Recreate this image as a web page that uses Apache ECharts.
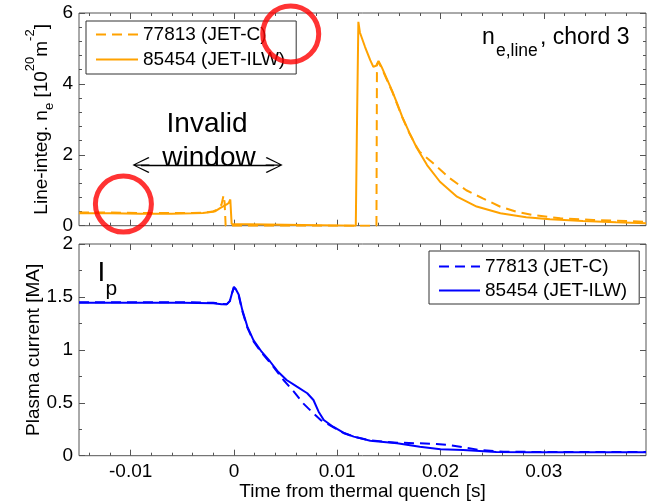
<!DOCTYPE html>
<html><head><meta charset="utf-8">
<script src="https://cdn.jsdelivr.net/npm/echarts@6/dist/echarts.min.js"></script>
<style>html,body{margin:0;padding:0;background:#fff}#c{width:649px;height:503px}</style>
</head><body><div id="c"></div>
<script>
// ---------- data (time [s], value) ----------
const neJetC = [[-0.015,0.37],[-0.012,0.37],[-0.009,0.36],[-0.006,0.36],[-0.004,0.36],[-0.003,0.37],[-0.002,0.40],[-0.0015,0.47],[-0.0012,0.6],[-0.001,0.86],[-0.0009,0.65],[-0.00085,0.6],[-0.0008,0],[0.0138,0],[0.01385,4.55],[0.0140,4.62],[0.0143,4.45],[0.0148,4.12],[0.0153,3.8],[0.0158,3.43],[0.0163,3.06],[0.0170,2.6],[0.0177,2.22],[0.0180,2.08],[0.0193,1.76],[0.0209,1.34],[0.0225,1.0],[0.0241,0.77],[0.0258,0.535],[0.0274,0.39],[0.029,0.30],[0.0316,0.21],[0.0348,0.16],[0.038,0.13],[0.0399,0.11]];
const neJetILW = [[-0.015,0.35],[-0.012,0.35],[-0.009,0.34],[-0.006,0.34],[-0.004,0.35],[-0.003,0.36],[-0.0024,0.38],[-0.0018,0.41],[-0.0013,0.50],[-0.001,0.55],[-0.0007,0.60],[-0.0005,0.64],[-0.00035,0.74],[-0.0003,0.70],[-0.00022,0.05],[-0.0002,0],[0.0118,0],[0.0119,2.5],[0.01205,5.75],[0.0122,5.45],[0.0127,5.04],[0.0132,4.67],[0.0135,4.48],[0.0138,4.52],[0.0140,4.65],[0.0143,4.48],[0.0148,4.15],[0.0153,3.82],[0.0158,3.45],[0.0163,3.07],[0.0170,2.62],[0.0177,2.2],[0.0187,1.71],[0.01995,1.24],[0.0216,0.82],[0.0235,0.54],[0.0258,0.35],[0.0283,0.24],[0.0306,0.18],[0.0338,0.13],[0.037,0.095],[0.0399,0.07]];
const ipJetC = [[-0.015,1.45],[-0.01,1.45],[-0.005,1.45],[-0.002,1.445],[-0.0012,1.435],[-0.0007,1.43],[-0.0004,1.46],[-0.0002,1.53],[0,1.59],[0.0002,1.57],[0.00047,1.51],[0.0008,1.37],[0.0013,1.21],[0.0019,1.08],[0.0027,0.97],[0.0035,0.88],[0.0039,0.83],[0.0048,0.715],[0.0058,0.605],[0.0067,0.495],[0.0077,0.40],[0.0084,0.337],[0.0096,0.27],[0.0106,0.215],[0.0116,0.18],[0.0132,0.145],[0.0158,0.123],[0.018,0.117],[0.0196,0.11],[0.0209,0.10],[0.0222,0.079],[0.0238,0.054],[0.0261,0.038],[0.03,0.035],[0.0399,0.035]];
const ipJetILW = [[-0.015,1.445],[-0.01,1.445],[-0.005,1.445],[-0.002,1.44],[-0.0012,1.43],[-0.0007,1.43],[-0.0004,1.46],[-0.0002,1.53],[0.0,1.595],[0.0002,1.57],[0.00047,1.52],[0.0008,1.38],[0.0013,1.22],[0.0019,1.09],[0.0027,0.98],[0.0035,0.89],[0.0043,0.79],[0.0051,0.715],[0.0061,0.652],[0.0071,0.59],[0.0077,0.526],[0.0082,0.416],[0.0087,0.337],[0.0096,0.274],[0.0106,0.217],[0.0116,0.18],[0.0132,0.142],[0.0158,0.117],[0.018,0.085],[0.02,0.06],[0.0222,0.054],[0.0254,0.035],[0.0287,0.032],[0.0351,0.032],[0.0399,0.032]];
const seriesNames = ['77813 (JET-C)', '85454 (JET-ILW)'];
const xLabelTicks = [-0.01, 0, 0.01, 0.02, 0.03];
const xMinorTicks = [-0.014,-0.012,-0.008,-0.006,-0.004,-0.002,0.002,0.004,0.006,0.008,0.012,0.014,0.016,0.018,0.022,0.024,0.026,0.028,0.032,0.034,0.036,0.038];
const annotationCircles = [[-0.0107,0.61],[0.0055,5.41]];
const arrowSpan = [[-0.0090,1.71],[0.0039,1.71]];

const FONT = 'Liberation Sans, Arial, Helvetica, sans-serif';
const AX = '#555';
const ORANGE = '#FFA200';
const BLUE = '#0000FF';
const DASH = [10,6];

function xAx(grid, pos, ticks, len, withLabels) {
  const a = { type:'value', gridIndex:grid, position:pos, min:-0.015, max:0.0399,
    axisLine:{show:false,onZero:false}, splitLine:{show:false},
    axisTick:{show:true, inside:true, length:len, customValues:ticks, lineStyle:{color:AX,width:1}},
    axisLabel:{show:false} };
  if (withLabels) {
    a.axisLabel = {show:true, customValues:xLabelTicks, fontSize:19, color:'#000', fontFamily:FONT, margin:7};
    a.name = 'Time from thermal quench [s]';
    a.nameLocation = 'middle'; a.nameGap = 26;
    a.nameTextStyle = {fontSize:19, color:'#000', fontFamily:FONT};
  }
  return a;
}
function yAx(grid, pos, max, interval, minorSplit, withLabels) {
  return { type:'value', gridIndex:grid, position:pos, min:0, max:max, interval:interval,
    axisLine:{show:false,onZero:false}, splitLine:{show:false},
    axisTick:{show:true, inside:true, length:6, lineStyle:{color:AX,width:1}},
    minorTick:{show:true, splitNumber:minorSplit, length:3, lineStyle:{color:AX,width:1}},
    axisLabel:{show:withLabels, fontSize:19, color:'#000', fontFamily:FONT, margin:6} };
}

const chevron = 'path://M8,0 L16,15 L15,16 L8,2 L1,16 L0,15 Z M7.4,1 L8.6,1 L8.6,16 L7.4,16 Z';

const yTop = yAx(0,'left',6,2,5,true);
yTop.name = '{a|Line-integ. n}{b|e}{a| [10}{c|20}{a|m}{c|-2}{a|]}';
yTop.nameLocation = 'middle'; yTop.nameGap = 27.5; yTop.nameRotate = 90; yTop.nameMoveOverlap = false;
yTop.nameTextStyle = {color:'#000', fontFamily:FONT, rich:{
  a:{fontSize:19, lineHeight:19, fontFamily:FONT, color:'#000', verticalAlign:'middle'},
  b:{fontSize:13, lineHeight:13, fontFamily:FONT, color:'#000', verticalAlign:'middle', padding:[14,0,0,0]},
  c:{fontSize:13, lineHeight:13, fontFamily:FONT, color:'#000', verticalAlign:'middle', padding:[0,0,24,0]}
}};
const yBot = yAx(1,'left',2,0.5,2,true);
yBot.name = 'Plasma current [MA]';
yBot.nameLocation = 'middle'; yBot.nameGap = 35.5; yBot.nameRotate = 90; yBot.nameMoveOverlap = false;
yBot.nameTextStyle = {fontSize:19, color:'#000', fontFamily:FONT};

function lineSeries(name, xi, yi, data, color, dashed) {
  return {type:'line', name:name, xAxisIndex:xi, yAxisIndex:yi, data:data, symbol:'none', showSymbol:false,
    silent:true, animation:false, lineStyle:{color:color, width:2, type: dashed ? DASH : 'solid'}, itemStyle:{color:color}};
}

const s0 = lineSeries(seriesNames[0], 0, 0, neJetC, ORANGE, true);
const s1 = lineSeries(seriesNames[1], 0, 0, neJetILW, ORANGE, false);
s1.markLine = {silent:true, animation:false, symbol:[chevron, chevron], symbolSize:[16,17],
  lineStyle:{color:'#000', width:1.3, type:'solid'}, label:{show:false}, emphasis:{disabled:true},
  data:[[{coord:arrowSpan[0]},{coord:arrowSpan[1]}]]};

const legendCommon = {orient:'vertical', itemHeight:20, borderColor:'#333', borderWidth:1,
  textStyle:{fontSize:19, color:'#000', fontFamily:FONT}, selectedMode:false};
const hiddenSym = {opacity:0, color:'rgba(0,0,0,0)', borderWidth:0};

const option = {
  animation:false,
  backgroundColor:'#fff',
  grid:[
    {left:79, right:3, top:13, height:212.7, show:true, borderColor:AX, borderWidth:1, containLabel:false},
    {left:79, right:3, top:244, height:211.7, show:true, borderColor:AX, borderWidth:1, containLabel:false}
  ],
  xAxis:[
    xAx(0,'bottom',xLabelTicks,6,false), xAx(0,'bottom',xMinorTicks,3,false),
    xAx(0,'top',xLabelTicks,6,false), xAx(0,'top',xMinorTicks,3,false),
    xAx(1,'bottom',xLabelTicks,6,true), xAx(1,'bottom',xMinorTicks,3,false),
    xAx(1,'top',xLabelTicks,6,false), xAx(1,'top',xMinorTicks,3,false)
  ],
  yAxis:[ yTop, yAx(0,'right',6,2,5,false), yBot, yAx(1,'right',2,0.5,2,false) ],
  legend:[
    Object.assign({}, legendCommon, {left:86, top:21, itemWidth:42, itemGap:6, padding:[4,11,5,9],
      data:[{name:seriesNames[0], itemStyle:hiddenSym, lineStyle:{color:ORANGE,width:2,type:DASH}},
            {name:seriesNames[1], itemStyle:hiddenSym, lineStyle:{color:ORANGE,width:2,type:'solid'}}]}),
    Object.assign({}, legendCommon, {left:429, top:251, itemWidth:41, itemGap:5, padding:[6,12,4,9],
      data:[{name:seriesNames[0], itemStyle:hiddenSym, lineStyle:{color:BLUE,width:2,type:DASH}},
            {name:seriesNames[1], itemStyle:hiddenSym, lineStyle:{color:BLUE,width:2,type:'solid'}}]})
  ],
  series:[
    s0, s1,
    lineSeries(seriesNames[0], 4, 2, ipJetC, BLUE, true),
    lineSeries(seriesNames[1], 4, 2, ipJetILW, BLUE, false),
    {type:'scatter', name:'annotation', xAxisIndex:0, yAxisIndex:0, data:annotationCircles, symbol:'circle',
      symbolSize:56, clip:false, silent:true, z:10,
      itemStyle:{color:'rgba(0,0,0,0)', borderColor:'#FF0000', borderWidth:5}}
  ],
  graphic:[
    {type:'text', x:207, y:124, style:{text:'Invalid', fontSize:28, fontFamily:FONT, fill:'#000', align:'center', verticalAlign:'middle'}},
    {type:'text', x:209, y:158, style:{text:'window', fontSize:28, fontFamily:FONT, fill:'#000', align:'center', verticalAlign:'middle'}},
    {type:'text', x:482, y:37.6, style:{text:'n', fontSize:23, fontFamily:FONT, fill:'#000', align:'left', verticalAlign:'middle'}},
    {type:'text', x:496, y:51.4, style:{text:'e,line', fontSize:17.5, fontFamily:FONT, fill:'#000', align:'left', verticalAlign:'middle'}},
    {type:'text', x:540, y:37.6, style:{text:', chord 3', fontSize:23, fontFamily:FONT, fill:'#000', align:'left', verticalAlign:'middle'}},
    {type:'text', x:97.5, y:273, style:{text:'I', fontSize:28, fontFamily:FONT, fill:'#000', align:'left', verticalAlign:'middle'}},
    {type:'text', x:105.5, y:289, style:{text:'p', fontSize:21, fontFamily:FONT, fill:'#000', align:'left', verticalAlign:'middle'}}
  ]
};
const chart = echarts.init(document.getElementById('c'), null, {renderer:'canvas'});
chart.setOption(option);
</script></body></html>
